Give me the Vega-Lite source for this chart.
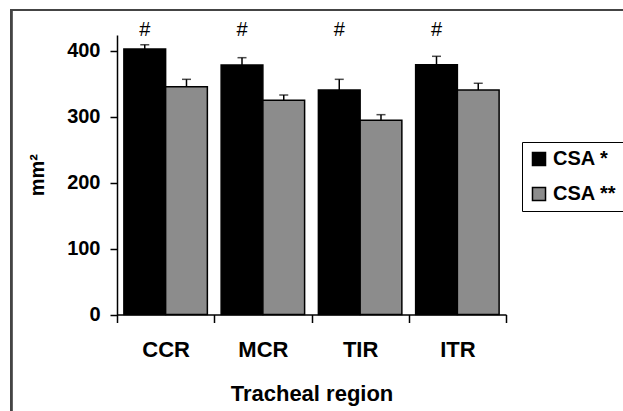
{
  "$schema": "https://vega.github.io/schema/vega-lite/v6.json",
  "width": 389,
  "height": 279.5,
  "autosize": {"type": "none"},
  "padding": {"left": 117, "top": 35, "right": 117, "bottom": 96.5},
  "background": "white",
  "config": {"view": {"stroke": null}, "font": "Liberation Sans"},
  "data": {
    "values": [
      {"region": "CCR", "group": "CSA *", "value": 402.6, "upper": 409, "sig": "#"},
      {"region": "CCR", "group": "CSA **", "value": 345.4, "upper": 356.6, "sig": ""},
      {"region": "MCR", "group": "CSA *", "value": 378.3, "upper": 389.4, "sig": "#"},
      {"region": "MCR", "group": "CSA **", "value": 325, "upper": 332.8, "sig": ""},
      {"region": "TIR", "group": "CSA *", "value": 340.4, "upper": 356.6, "sig": "#"},
      {"region": "TIR", "group": "CSA **", "value": 294.5, "upper": 303, "sig": ""},
      {"region": "ITR", "group": "CSA *", "value": 378.8, "upper": 391.5, "sig": "#"},
      {"region": "ITR", "group": "CSA **", "value": 340.4, "upper": 350.6, "sig": ""}
    ]
  },
  "layer": [
    {
      "encoding": {
        "x": {
          "field": "region", "type": "nominal", "sort": ["CCR", "MCR", "TIR", "ITR"],
          "scale": {"paddingInner": 0, "paddingOuter": 0},
          "title": "Tracheal region",
          "axis": {
            "labelAngle": 0, "tickBand": "extent", "tickSize": 8, "tickColor": "black", "tickWidth": 1.5,
            "domainColor": "black", "domainWidth": 1.5,
            "labelFont": "Liberation Sans", "labelFontWeight": "bold", "labelFontSize": 22, "labelColor": "black", "labelPadding": 17,
            "titleFont": "Liberation Sans", "titleFontWeight": "bold", "titleFontSize": 22, "titleColor": "black", "titlePadding": 23
          }
        },
        "xOffset": {"field": "group", "type": "nominal", "sort": ["CSA *", "CSA **"], "scale": {"paddingInner": 0, "paddingOuter": 0.165}}
      },
      "layer": [
        {
          "mark": {"type": "bar", "stroke": "black", "strokeWidth": 1.5},
          "encoding": {
            "y": {
              "field": "value", "type": "quantitative",
              "scale": {"domain": [0, 423.8], "nice": false, "zero": false},
              "title": "mm²",
              "axis": {
                "values": [0, 100, 200, 300, 400], "grid": false, "tickSize": 7, "tickColor": "black", "tickWidth": 1.5,
                "domainColor": "black", "domainWidth": 1.5,
                "labelFont": "Liberation Sans", "labelFontWeight": "bold", "labelFontSize": 20, "labelColor": "black", "labelPadding": 10,
                "titleFont": "Liberation Sans", "titleFontWeight": "bold", "titleFontSize": 20, "titleColor": "black", "titlePadding": 19
              }
            },
            "color": {
              "field": "group", "type": "nominal",
              "scale": {"domain": ["CSA *", "CSA **"], "range": ["#000000", "#8c8c8c"]},
              "legend": {
                "orient": "none", "legendX": 405, "legendY": 107, "title": null,
                "symbolType": "square", "symbolSize": 170, "symbolStrokeColor": "black", "symbolStrokeWidth": 1.5,
                "labelFont": "Liberation Sans", "labelFontWeight": "bold", "labelFontSize": 20, "labelColor": "black", "labelOffset": 4,
                "strokeColor": "black", "fillColor": "white", "padding": 7, "rowPadding": 15
              }
            }
          }
        },
        {
          "mark": {"type": "rule", "color": "black", "strokeWidth": 1.5},
          "encoding": {
            "y": {"field": "value", "type": "quantitative"},
            "y2": {"field": "upper"}
          }
        },
        {
          "mark": {"type": "tick", "color": "black", "thickness": 1.5, "size": 9, "orient": "horizontal"},
          "encoding": {
            "y": {"field": "upper", "type": "quantitative"}
          }
        },
        {
          "transform": [{"filter": "datum.sig == '#'"}],
          "mark": {"type": "text", "fontSize": 20, "font": "Liberation Sans", "color": "black", "baseline": "middle"},
          "encoding": {
            "y": {"datum": 431, "type": "quantitative"},
            "text": {"field": "sig"}
          }
        }
      ]
    },
    {
      "mark": {"type": "rect", "fill": "transparent", "stroke": "#444444", "strokeWidth": 2},
      "encoding": {
        "x": {"datum": -0.272, "type": "quantitative", "scale": {"domain": [0, 1], "nice": false, "zero": false}, "axis": null},
        "x2": {"datum": 2},
        "y": {"datum": 461.7, "type": "quantitative"},
        "y2": {"datum": -400}
      }
    }
  ],
  "resolve": {"scale": {"x": "independent"}}
}
